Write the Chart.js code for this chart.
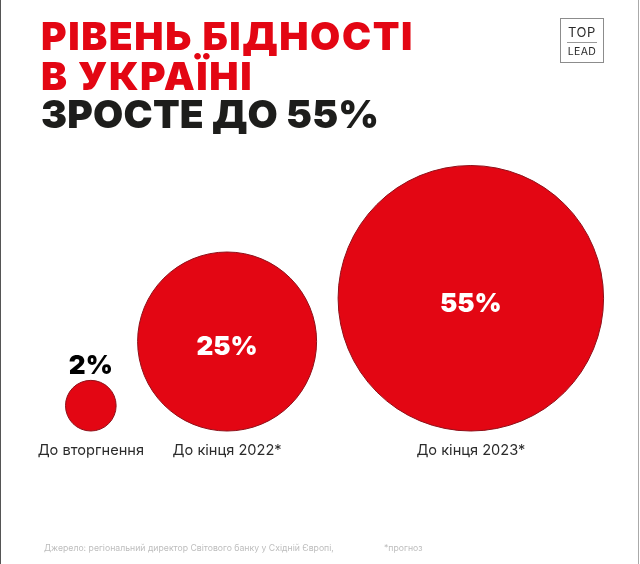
<!DOCTYPE html>
<html lang="uk">
<head>
<meta charset="utf-8">
<title>Рівень бідності в Україні</title>
<script src="https://cdn.jsdelivr.net/npm/chart.js@4/dist/chart.umd.min.js"></script>
<style>
  html, body { margin: 0; padding: 0; background: #fff; }
  #page { position: relative; width: 640px; height: 564px; overflow: hidden; font-family: Inter, sans-serif; }
  #chart { position: absolute; left: 0; top: 0; }
  .edge { position: absolute; top: 0; bottom: 0; width: 1px; }
  .head { position: absolute; left: 41px; margin: 0; font-size: 39px; line-height: 40px; font-weight: 900; white-space: nowrap; }
  #logo { position: absolute; left: 560px; top: 18px; width: 42px; height: 43px; border: 1px solid #8c8c8c; text-align: center; color: #2a2a2a; }
  #logo .top { position: absolute; left: 0; right: 0; top: 5px; font-size: 13px; line-height: 16px; letter-spacing: 0.6px; }
  #logo hr { position: absolute; left: 6px; right: 6px; top: 23px; margin: 0; border: 0; border-top: 1px solid #999; }
  #logo .bottom { position: absolute; left: 0; right: 0; top: 26px; font-size: 10.5px; line-height: 13px; letter-spacing: 0.4px; }
  .note { position: absolute; top: 542px; font-size: 8.7px; line-height: 12px; color: #bdbdbd; white-space: nowrap; }
</style>
</head>
<body>
<div id="page">
  <canvas id="chart" width="640" height="564"></canvas>
  <div class="edge" style="left:0;background:#555"></div>
  <div class="edge" style="left:638px;background:#aaa"></div>
  <p class="head" style="top:16px;color:#e30613;letter-spacing:1.6px">РІВЕНЬ БІДНОСТІ</p>
  <p class="head" style="top:56px;color:#e30613;letter-spacing:1.6px">В УКРАЇНІ</p>
  <p class="head" style="top:94px;color:#1d1d1b;letter-spacing:0.2px">ЗРОСТЕ ДО 55%</p>
  <div id="logo"><span class="top">TOP</span><hr><span class="bottom">LEAD</span></div>
  <div class="note" style="left:44px">Джерело: регіональний директор Світового банку у Східній Європі,</div>
  <div class="note" style="left:384px">*прогноз</div>
</div>
<script>
const categories = ['До вторгнення', 'До кінця 2022*', 'До кінця 2023*'];
const values = [2, 25, 55];

// Circle area follows the value, so the radius is sqrt(value) in axis units.
// Circles sit on a common baseline (y = 0), side by side with a small gap.
const pxPerUnit = 17.9;
const gap = 1.2;
let cursor = 0;
const points = values.map((value) => {
  const radius = Math.sqrt(value);
  const point = { x: cursor + radius, y: radius, r: radius * pxPerUnit };
  cursor += radius * 2 + gap;
  return point;
});

// Otherwise Chart.js shrinks the chart area by the biggest bubble and skips the small one
Chart.BubbleController.prototype.getMaxOverflow = () => 0;

const originX = 65.5;
const originY = 431;

// Value labels and category names, placed from the drawn bubbles
const bubbleLabels = {
  id: 'bubbleLabels',
  afterDatasetsDraw(chart) {
    const { ctx } = chart;
    const baseline = chart.scales.y.getPixelForValue(0);
    ctx.save();
    ctx.textAlign = 'center';
    ctx.textBaseline = 'middle';
    chart.getDatasetMeta(0).data.forEach((bubble, i) => {
      const inside = values[i] > 5;
      ctx.font = '900 26px Inter, sans-serif';
      ctx.fillStyle = inside ? '#ffffff' : '#000000';
      const labelY = inside ? bubble.y + 6 : bubble.y - bubble.options.radius - 14;
      ctx.fillText(values[i] + '%', bubble.x, labelY);

      ctx.font = '400 14.6px Inter, sans-serif';
      ctx.fillStyle = '#2b2b2b';
      ctx.fillText(categories[i], bubble.x, baseline + 20);
    });
    ctx.restore();
  },
};

new Chart(document.getElementById('chart').getContext('2d'), {
  type: 'bubble',
  data: {
    labels: categories,
    datasets: [{
      data: points,
      backgroundColor: '#e30613',
      borderColor: '#8f1019',
      borderWidth: 1,
      clip: false,
    }],
  },
  options: {
    responsive: false,
    animation: false,
    layout: { padding: 0 },
    plugins: { legend: { display: false }, tooltip: { enabled: false } },
    scales: {
      x: { type: 'linear', display: false, min: -originX / pxPerUnit, max: (640 - originX) / pxPerUnit },
      y: { type: 'linear', display: false, min: (originY - 564) / pxPerUnit, max: originY / pxPerUnit },
    },
  },
  plugins: [bubbleLabels],
});
</script>
</body>
</html>
